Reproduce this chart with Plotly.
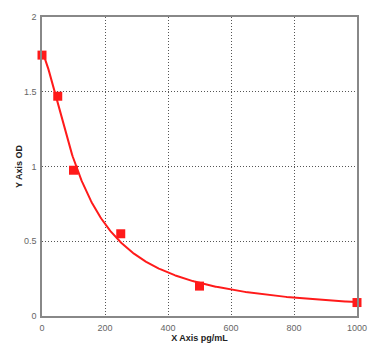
import numpy as np
import plotly.graph_objects as go

conc = [0, 50, 100, 250, 500, 1000]
od = [1.745, 1.47, 0.975, 0.55, 0.20, 0.09]
x_ticks = [0, 200, 400, 600, 800, 1000]
y_ticks = [0, 0.5, 1, 1.5, 2]

# 4-parameter logistic fit (least squares, grid over b,c; a,d linear)
xa = np.array(conc, float)
ya = np.array(od, float)
best = None
for b in np.linspace(0.8, 3.0, 89):
    for c in np.linspace(40, 400, 181):
        g = 1.0 / (1.0 + (xa / c) ** b)
        A = np.vstack([g, 1 - g]).T
        coef, *_ = np.linalg.lstsq(A, ya, rcond=None)
        r = np.sum((A @ coef - ya) ** 2)
        if best is None or r < best[0]:
            best = (r, b, c, coef)
_, b, c, (a, d) = best
xf = np.linspace(0, 1000, 400)
yf = d + (a - d) / (1.0 + (xf / c) ** b)

fig = go.Figure()
fig.add_trace(go.Scatter(x=xf, y=yf, mode="lines",
                         line=dict(color="#ff1a1a", width=2),
                         hoverinfo="skip", showlegend=False))
fig.add_trace(go.Scatter(x=conc, y=od, mode="markers",
                         marker=dict(symbol="square", size=9, color="#ff1a1a"),
                         showlegend=False, cliponaxis=False))

axis_common = dict(
    showline=True, linecolor="#888888", linewidth=1.5, mirror=True,
    showgrid=True, gridcolor="#555555", griddash="1px,2px", gridwidth=1,
    zeroline=False, ticks="", tickfont=dict(family="Arial, Liberation Sans", size=9, color="#666666"),
)
fig.update_layout(
    width=391, height=353,
    margin=dict(l=42, r=34, t=12, b=36),
    paper_bgcolor="white", plot_bgcolor="white",
    xaxis=dict(range=[0, 1000], tickvals=x_ticks, ticklabelstandoff=2,
               title=dict(text="<b>X Axis pg/mL</b>", standoff=2,
                          font=dict(family="Arial, Liberation Sans", size=9, color="#222222")),
               **axis_common),
    yaxis=dict(range=[0, 2], tickvals=y_ticks, ticklabelstandoff=2,
               title=dict(text="<b>Y Axis OD</b>", standoff=0,
                          font=dict(family="Arial, Liberation Sans", size=9, color="#222222")),
               **axis_common),
)
fig.write_html("out.html")
